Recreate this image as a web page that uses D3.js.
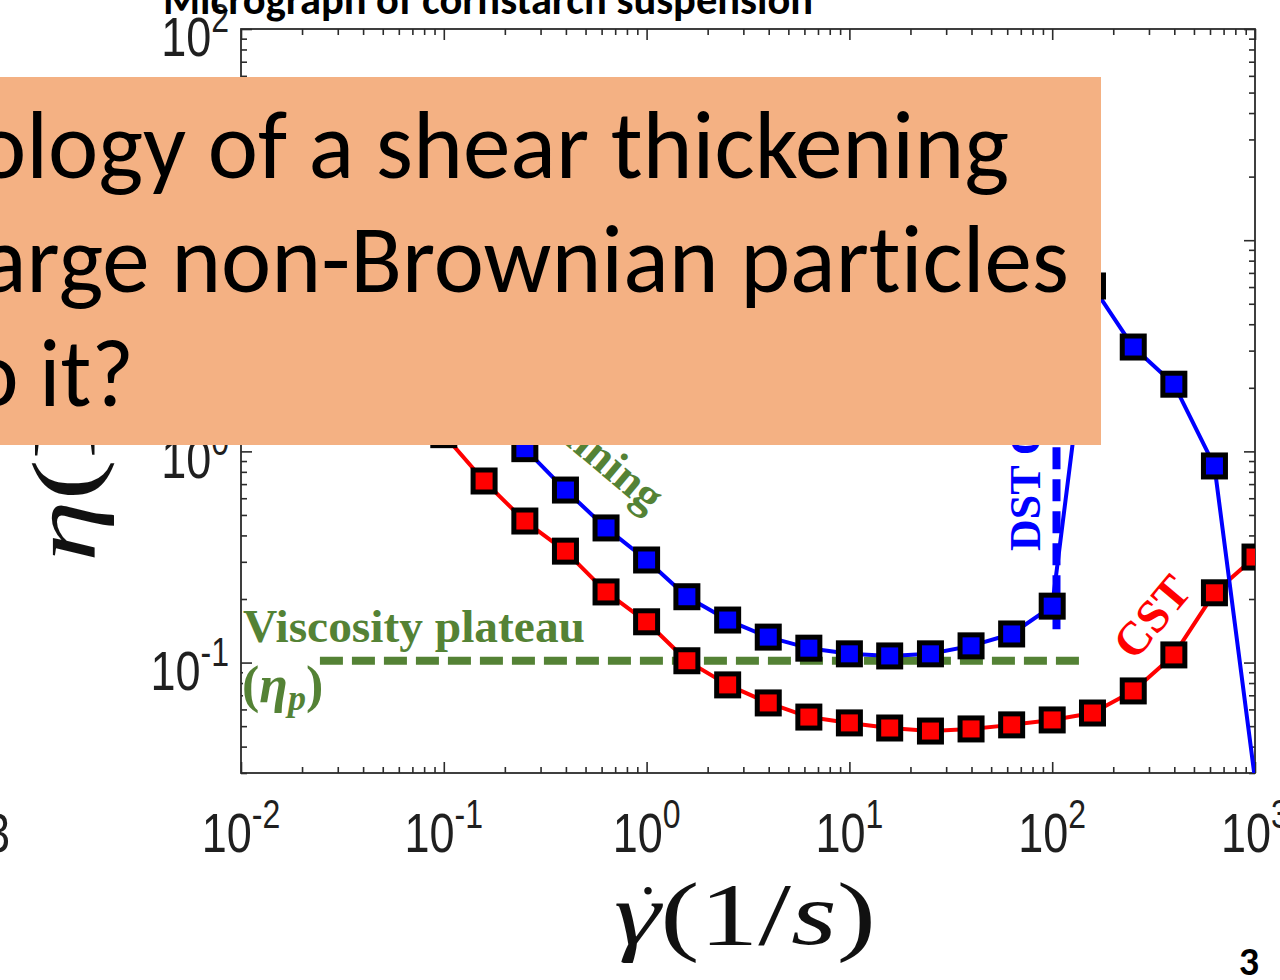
<!DOCTYPE html>
<html>
<head>
<meta charset="utf-8">
<script src="https://cdn.jsdelivr.net/npm/d3@7"></script>
<style>
  html, body { margin: 0; padding: 0; background: #fff; overflow: hidden; }
  svg { display: block; }
  text { font-variant-ligatures: none; }
</style>
</head>
<body>
<svg id="chart" width="1280" height="980"></svg>
<script>
// ---- data -------------------------------------------------------------
// continuous shear thickening (CST) suspension: shear rate (1/s) and viscosity (Pa·s)
const cstRate = [0.1, 0.158, 0.251, 0.398, 0.631, 1, 1.58, 2.51, 3.98, 6.31, 10,
                 15.8, 25.1, 39.8, 63.1, 100, 158, 251, 398, 631, 1000];
const cstViscosity = [1.2, 0.724, 0.468, 0.337, 0.216, 0.156, 0.102, 0.0784, 0.0644, 0.0552, 0.0518,
                      0.049, 0.0474, 0.0485, 0.0507, 0.0535, 0.0577, 0.0734, 0.1087, 0.214, 0.316];

// discontinuous shear thickening (DST) suspension
const dstRate = [0.251, 0.398, 0.631, 1, 1.58, 2.51, 3.98, 6.31, 10, 15.8,
                 25.1, 39.8, 63.1, 100, 158, 251, 398, 631, 1000];
const dstViscosity = [1.03, 0.656, 0.434, 0.306, 0.205, 0.159, 0.132, 0.117, 0.110, 0.1075,
                      0.110, 0.120, 0.1366, 0.185, 6.07, 3.12, 2.08, 0.853, 0.028];

// viscosity plateau (eta_p) and DST onset marker
const plateauViscosity = 0.102;
const plateauRateRange = [0.0245, 140];
const dstOnsetRate = 105;
const dstOnsetViscosityRange = [0.144, 5];

// axis ticks (decade exponents)
const xTickExponents = [-2, -1, 0, 1, 2, 3];
const yTickExponents = [-1, 0, 1, 2];

// slide text
const titleText = "Micrograph of cornstarch suspension";
const questionLines = ["ology of a shear thickening", "arge non-Brownian particles", "o it?"];
const slideNumber = "3";

// ---- layout -----------------------------------------------------------
const plot = { left: 241, right: 1255, top: 29, bottom: 773 };
const svg = d3.select("#chart");

const x = d3.scaleLog().domain([0.01, 1000]).range([plot.left, plot.right]);
const y = d3.scaleLog().domain([0.03, 100]).range([plot.bottom, plot.top]);

const axisColor = "#2b2b2b";
const green = "#548235";
const isMajor = d => Math.abs(Math.log10(d) - Math.round(Math.log10(d))) < 1e-6;
const tickLen = d => isMajor(d) ? 11 : 6;

svg.append("defs").append("clipPath").attr("id", "plotClip")
  .append("rect")
  .attr("x", plot.left).attr("y", plot.top)
  .attr("width", plot.right - plot.left).attr("height", plot.bottom - plot.top);

// ---- axes (box with inward ticks on all four sides) -------------------
const axes = svg.append("g").attr("class", "axes");

function sideAxis(gen, scale, transform, attr, sign) {
  const g = axes.append("g").attr("transform", transform)
    .call(gen(scale).tickValues(scale.ticks()).tickFormat(() => "").tickSizeOuter(0));
  g.select(".domain").remove();
  g.selectAll(".tick line")
    .attr(attr, d => sign * tickLen(d))
    .attr("stroke", axisColor).attr("stroke-width", 1.6);
  return g;
}
sideAxis(d3.axisBottom, x, `translate(0,${plot.bottom})`, "y2", -1);
sideAxis(d3.axisTop, x, `translate(0,${plot.top})`, "y2", 1);
sideAxis(d3.axisLeft, y, `translate(${plot.left},0)`, "x2", 1);
sideAxis(d3.axisRight, y, `translate(${plot.right},0)`, "x2", -1);

axes.append("rect")
  .attr("x", plot.left).attr("y", plot.top)
  .attr("width", plot.right - plot.left).attr("height", plot.bottom - plot.top)
  .attr("fill", "none").attr("stroke", axisColor).attr("stroke-width", 1.8);

// tick labels: "10" with a raised exponent, in a slightly tall sans face
const tickFont = "'Liberation Sans', Arial, sans-serif";
function powerLabel(parent, px, py, exp, anchor) {
  const g = parent.append("g").attr("transform", `translate(${px},${py}) scale(1,1.25)`);
  const t = g.append("text")
    .attr("text-anchor", anchor)
    .attr("font-family", tickFont)
    .attr("font-size", 45).attr("fill", "#1f1f1f");
  t.append("tspan").text("10");
  t.append("tspan").attr("dy", -19).attr("font-size", 32).text(String(exp));
  return g;
}
const labels = svg.append("g").attr("class", "tick-labels");
xTickExponents.forEach(e => powerLabel(labels, x(Math.pow(10, e)), 852, e, "middle"));
yTickExponents.forEach(e => powerLabel(labels, 229, y(Math.pow(10, e)) + 27, e, "end"));
// exponent of a neighbouring panel's tick label, cut by the slide edge
labels.append("g").attr("transform", "translate(10,852) scale(1,1.25)")
  .append("text").attr("text-anchor", "end")
  .attr("font-family", tickFont)
  .attr("font-size", 45).attr("fill", "#1f1f1f").text("3");

// ---- axis titles --------------------------------------------------------
const serif = "'Liberation Serif', 'Times New Roman', serif";
const xTitle = svg.append("text")
  .attr("x", 614).attr("y", 944)
  .attr("font-family", serif)
  .attr("font-size", 88).attr("fill", "#111")
  .attr("textLength", 262).attr("lengthAdjust", "spacingAndGlyphs");
xTitle.append("tspan").attr("font-style", "italic").text("γ");
xTitle.append("tspan").text("(1/");
xTitle.append("tspan").attr("font-style", "italic").text("s");
xTitle.append("tspan").text(")");
// time-derivative dot over gamma
svg.append("text").attr("x", 648).attr("y", 894).attr("text-anchor", "middle")
  .attr("font-family", serif).attr("font-size", 64).attr("fill", "#111")
  .text(".");

const yTitle = svg.append("text")
  .attr("transform", "translate(95,562) scale(1,1.35) rotate(-90)")
  .attr("font-family", serif)
  .attr("font-size", 92).attr("fill", "#111");
yTitle.append("tspan").attr("font-style", "italic").text("η");
yTitle.append("tspan").text("(Pa·s)");

// ---- annotation labels (white-backed text boxes) -----------------------
const ann = svg.append("g").attr("class", "annotations");
ann.append("rect").attr("x", 243).attr("y", 605).attr("width", 346).attr("height", 50).attr("fill", "#fff");
ann.append("rect").attr("x", 243).attr("y", 666).attr("width", 76).attr("height", 40).attr("fill", "#fff");

const straight = d3.line().x(d => x(d[0])).y(d => y(d[1]));
ann.append("path")
  .datum(plateauRateRange.map(r => [r, plateauViscosity]))
  .attr("d", straight)
  .attr("fill", "none").attr("stroke", green).attr("stroke-width", 8)
  .attr("stroke-dasharray", "23,9");

ann.append("text").attr("x", 243).attr("y", 642)
  .attr("font-family", serif).attr("font-weight", "bold")
  .attr("font-size", 47).attr("fill", green)
  .attr("textLength", 342).attr("lengthAdjust", "spacingAndGlyphs")
  .text("Viscosity plateau");
const etaP = ann.append("text").attr("x", 242).attr("y", 702)
  .attr("font-family", serif).attr("font-weight", "bold")
  .attr("font-size", 52).attr("fill", green);
etaP.append("tspan").text("(");
etaP.append("tspan").attr("font-style", "italic").text("η");
etaP.append("tspan").attr("font-style", "italic").attr("font-size", 36).attr("dy", 8).text("p");
etaP.append("tspan").attr("dy", -8).text(")");

ann.append("text")
  .attr("transform", "translate(648,514) rotate(40)")
  .attr("text-anchor", "end")
  .attr("font-family", serif).attr("font-weight", "bold")
  .attr("font-size", 46).attr("fill", green)
  .text("Shear thinning");

ann.append("text")
  .attr("transform", "translate(1040,551) rotate(-90)")
  .attr("font-family", serif).attr("font-weight", "bold")
  .attr("font-size", 44).attr("fill", "#0000ff")
  .text("DST Onset");

ann.append("text")
  .attr("transform", "translate(1164,627) rotate(-50)")
  .attr("text-anchor", "middle")
  .attr("font-family", serif).attr("font-weight", "bold")
  .attr("font-size", 47).attr("fill", "#ff0000")
  .text("CST");

// ---- data series ---------------------------------------------------------
const data = svg.append("g").attr("clip-path", "url(#plotClip)");

// DST onset (vertical dashed)
data.append("path")
  .datum(dstOnsetViscosityRange.map(v => [dstOnsetRate, v]))
  .attr("d", straight)
  .attr("fill", "none").attr("stroke", "#0000ff").attr("stroke-width", 8)
  .attr("stroke-dasharray", "22,10");

const series = [
  { rate: cstRate, visc: cstViscosity, color: "#ff0000" },
  { rate: dstRate, visc: dstViscosity, color: "#0000ff" }
];
const line = d3.line().x(d => x(d.r)).y(d => y(d.v));
series.forEach(s => {
  const pts = s.rate.map((r, i) => ({ r, v: s.visc[i] }));
  data.append("path").datum(pts).attr("d", line)
    .attr("fill", "none").attr("stroke", s.color).attr("stroke-width", 4)
    .attr("stroke-linejoin", "round");
  s.points = pts;
});
series.forEach(s => {
  const m = 22;
  data.selectAll(null)
    .data(s.points.filter(p => p.v >= y.domain()[0] && p.v <= y.domain()[1]))
    .join("rect")
    .attr("x", d => x(d.r) - m / 2).attr("y", d => y(d.v) - m / 2)
    .attr("width", m).attr("height", m)
    .attr("fill", s.color).attr("stroke", "#000").attr("stroke-width", 5);
});

// ---- slide overlay: question box, title and page number -----------------
const box = svg.append("g").attr("class", "question");
box.append("rect").attr("x", 0).attr("y", 77).attr("width", 1101).attr("height", 368)
  .attr("fill", "#f4b183");
const bodyFont = "Carlito, Calibri, 'Open Sans', sans-serif";
const lineSpec = [
  { y: 178, x0: -24, x1: 1009 },
  { y: 292, x0: -19, x1: 1069 },
  { y: 406, x0: -30, x1: 134 }
];
questionLines.forEach((txt, i) => {
  const sp = lineSpec[i];
  box.append("text")
    .attr("x", sp.x0).attr("y", sp.y)
    .attr("font-family", bodyFont).attr("font-size", 96).attr("fill", "#000")
    .attr("textLength", sp.x1 - sp.x0).attr("lengthAdjust", "spacingAndGlyphs")
    .text(txt);
});

svg.append("text").attr("x", 163).attr("y", 14)
  .attr("font-family", bodyFont).attr("font-weight", "bold")
  .attr("font-size", 42).attr("fill", "#000")
  .attr("textLength", 650).attr("lengthAdjust", "spacingAndGlyphs")
  .text(titleText);

svg.append("text").attr("x", 1259).attr("y", 975).attr("text-anchor", "end")
  .attr("font-family", bodyFont).attr("font-weight", "bold")
  .attr("font-size", 40).attr("fill", "#000")
  .text(slideNumber);
</script>
</body>
</html>
